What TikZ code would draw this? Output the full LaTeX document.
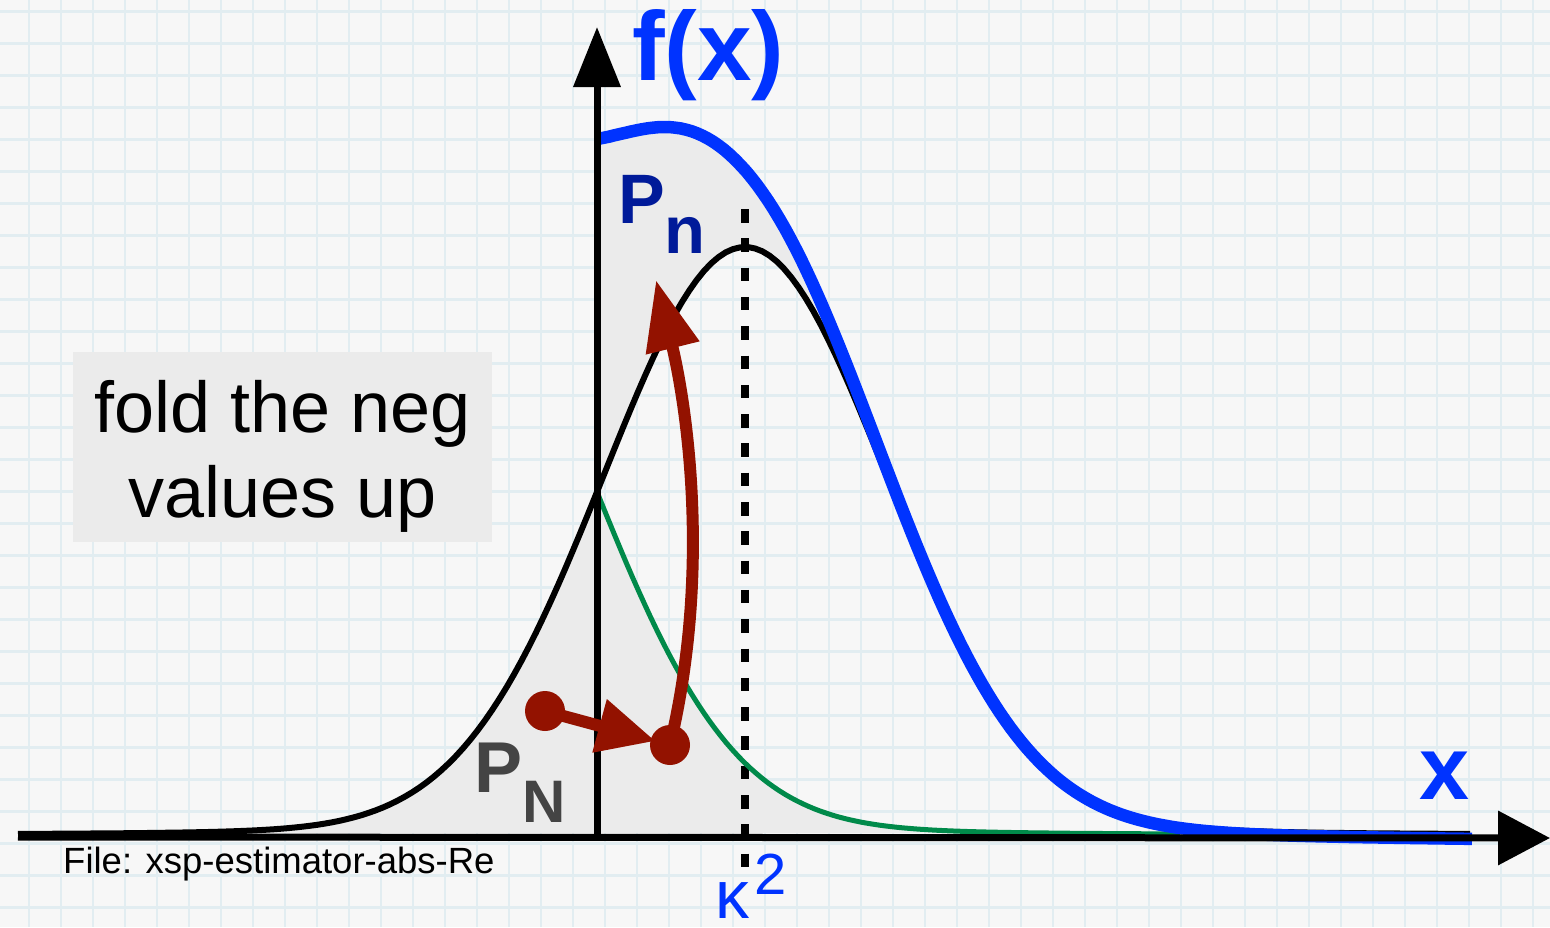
\documentclass[tikz,border=0pt]{standalone}
\usepackage{fontspec}
\setmainfont{Liberation Sans}
\usetikzlibrary{arrows.meta}
\definecolor{bgc}{HTML}{F7F7F7}
\definecolor{gridc}{HTML}{E2EDF1}
\definecolor{shadec}{HTML}{EBEBEB}
\definecolor{fblue}{HTML}{0033FF}
\definecolor{pnblue}{HTML}{001A99}
\definecolor{pgrey}{HTML}{444444}
\definecolor{dred}{HTML}{931200}
\definecolor{fgreen}{HTML}{008A4A}
\tikzset{
  declare function={
    bk(\t)=589*(0.95*exp(-0.5*((\t-745)/142)*((\t-745)/142))+0.05/(1+((\t-745)/200)*((\t-745)/200)));
    gr(\t)=bk(1194-\t);
    bl(\t)=bk(\t)+gr(\t)+18*exp(-((\t-660)/80)*((\t-660)/80));
  },
  gridline/.style={draw=gridc, line width=2.5pt},
  shadefill/.style={fill=shadec},
  axisline/.style={draw=black, line width=7pt},
  blackcurve/.style={draw=black, line width=6pt, line join=round},
  bluecurve/.style={draw=fblue, line width=12.5pt, line join=round},
  greencurve/.style={draw=fgreen, line width=5pt, line join=round},
  redline/.style={draw=dred, line width=12pt},
  reddot/.style={circle, fill=dred, minimum size=40pt, inner sep=0pt},
  lbl/.style={inner sep=0pt, anchor=base west},
}
\begin{document}
\begin{tikzpicture}[x=1pt,y=-1pt]
\useasboundingbox (0,0) rectangle (1550,927);
\fill[bgc] (0,0) rectangle (1550,927);
% grid
\foreach \gx in {29,61,...,1550} {\draw[gridline] (\gx,0) -- (\gx,927);}
\foreach \gy in {11.5,43.5,...,927} {\draw[gridline] (0,\gy) -- (1550,\gy);}
% grey fills
\fill[shadefill] plot[domain=150:597, samples=80] (\x,{836-bk(\x)}) -- (597,833) -- (150,833) -- cycle;
\fill[shadefill] plot[domain=597:880, samples=80] (\x,{836-bl(\x)}) -- plot[domain=880:597, samples=80] (\x,{836-bk(\x)}) -- cycle;
\fill[shadefill] plot[domain=597:1180, samples=100] (\x,{836-gr(\x)}) -- (1180,833) -- (597,833) -- cycle;
% text box
\node[fill=shadec, minimum width=419pt, minimum height=190pt, inner sep=0pt] (foldbox) at (282.5,447) {};
\node[inner sep=0pt, align=center, font=\fontsize{72}{85}\selectfont] (foldtxt) at (282.5,456) {fold the neg\\values up};
% dotted line
\coordinate (dtop) at (745,209);
\coordinate (dbot) at (745,868);
\draw[line width=8pt, dash pattern=on 13.5pt off 15.8pt] (dtop) -- (dbot);
% black curve
\draw[blackcurve] plot[domain=18:1470, samples=200] (\x,{836-bk(\x)});
% green curve
\draw[greencurve] plot[domain=597:1180, samples=100] (\x,{836-gr(\x)});
% blue curve
\draw[bluecurve] plot[domain=598:1472, samples=160] (\x,{837-bl(\x)+5*(\x-598)/874});
% axes
\coordinate (O) at (597,837);
\coordinate (ytip) at (597,27);
\coordinate (xstart) at (18,837);
\coordinate (xtip) at (1550,838);
\draw[axisline, -{Triangle[length=60pt,width=46pt]}] (O) -- (ytip);
\draw[axisline, -{Triangle[length=52pt,width=53pt]}] (xstart) -- (xtip);
% red arrows
\node[reddot] (d1) at (545,711) {};
\node[reddot] (d2) at (670,745) {};
\coordinate (uptip) at (656,280);
\draw[redline, -{Triangle[length=58pt,width=52pt]}, shorten >=15pt] (d1.center) -- (d2.center);
\draw[redline, -{Triangle[length=70pt,width=52pt]}] (d2.center) .. controls (714,560) and (683,390) .. (uptip);
% labels
\node[lbl, text=fblue, font=\fontsize{98}{98}\selectfont\bfseries] (fx) at (632,80) {f(x)};
\node[lbl, text=pnblue, font=\fontsize{70}{70}\selectfont\bfseries] (pn) at (618,223) {P\raisebox{-30pt}{\fontsize{67}{67}\selectfont n}};
\node[lbl, text=pgrey, font=\fontsize{72}{72}\selectfont\bfseries] (pN) at (474,792) {P\raisebox{-30pt}{\fontsize{60}{60}\selectfont N}};
\node[lbl, text=fblue, font=\fontsize{90}{90}\selectfont\bfseries] (xl) at (1419,799) {x};
\node[lbl, text=fblue, font=\fontsize{68}{68}\selectfont] (kap) at (715,918) {κ\hspace{5pt}\raisebox{24pt}{\fontsize{58}{58}\selectfont 2}};
\node[lbl, font=\fontsize{36.5}{36.5}\selectfont] (file) at (63,873) {File: xsp-estimator-abs-Re};
\end{tikzpicture}
\end{document}
